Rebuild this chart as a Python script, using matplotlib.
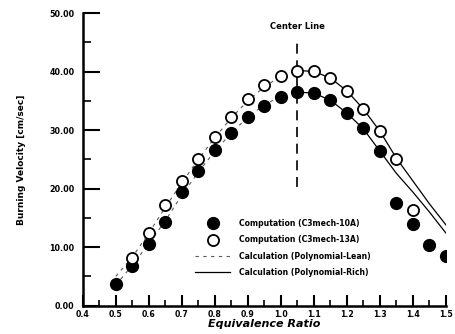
import matplotlib.pyplot as plt
from matplotlib.ticker import MultipleLocator

plt.rcParams['font.family'] = ['DejaVu Sans']
plt.rcParams['font.weight'] = 'bold'

# computed burning velocities
phi_10a = [0.5, 0.55, 0.6, 0.65, 0.7, 0.75, 0.8, 0.85, 0.9, 0.95, 1.0, 1.05,
           1.1, 1.15, 1.2, 1.25, 1.3, 1.35, 1.4, 1.45, 1.5]
su_10a = [3.7, 6.7, 10.5, 14.3, 19.5, 23.0, 26.6, 29.5, 32.2, 34.1, 35.6, 36.5,
          36.3, 35.1, 32.9, 30.3, 26.4, 17.6, 14.0, 10.4, 8.5]
phi_13a = [0.55, 0.6, 0.65, 0.7, 0.75, 0.8, 0.85, 0.9, 0.95, 1.0, 1.05,
           1.1, 1.15, 1.2, 1.25, 1.3, 1.35, 1.4]
su_13a = [8.1, 12.4, 17.2, 21.3, 25.0, 28.8, 32.2, 35.3, 37.7, 39.2, 40.1,
          40.1, 38.9, 36.7, 33.6, 29.8, 25.0, 16.4]

# polynomial fits (lean side / rich side)
phi_lean = [0.5, 0.55, 0.6, 0.65, 0.7, 0.75, 0.8, 0.85, 0.9, 0.95, 1.0, 1.05]
lean_13a = [5.0, 8.3, 12.4, 16.8, 21.0, 25.0, 28.7, 32.1, 35.0, 37.4, 39.2, 40.2]
lean_10a = [3.5, 6.9, 10.6, 14.5, 18.9, 22.8, 26.4, 29.5, 32.2, 34.3, 35.8, 36.5]
phi_rich = [1.05, 1.1, 1.15, 1.2, 1.25, 1.3, 1.35, 1.4, 1.45, 1.5]
rich_13a = [40.2, 40.0, 38.9, 36.7, 33.6, 29.8, 25.2, 21.3, 17.4, 13.8]
rich_10a = [36.5, 36.3, 35.1, 32.9, 30.2, 26.4, 22.6, 19.4, 16.0, 12.4]

center_phi = 1.05

fig = plt.figure(figsize=(4.55, 3.34), dpi=100)
ax = fig.add_axes([0.182, 0.085, 0.798, 0.876])

dash = (0, (3, 4))
ax.plot(phi_lean, lean_13a, color='0.35', lw=0.8, ls=dash,
        label='Calculation (Polynomial-Lean)', zorder=2)
ax.plot(phi_lean, lean_10a, color='0.35', lw=0.8, ls=dash, zorder=2)
ax.plot(phi_rich, rich_13a, color='black', lw=0.9,
        label='Calculation (Polynomial-Rich)', zorder=2)
ax.plot(phi_rich, rich_10a, color='black', lw=0.9, zorder=2)

ax.plot(phi_10a, su_10a, 'o', ms=8.5, color='black', mec='black',
        label='Computation (C3mech-10A)', zorder=3)
ax.plot(phi_13a, su_13a, 'o', ms=8, mfc='white', mec='black', mew=1.3,
        label='Computation (C3mech-13A)', zorder=3)

ax.plot([center_phi, center_phi], [20.3, 45.9], color='black', lw=1.2,
        ls=(0, (6, 4)), zorder=1)
ax.text(center_phi, 47.0, 'Center Line', ha='center', va='bottom',
        fontsize=6, fontweight='bold')

ax.set_xlim(0.4, 1.5)
ax.set_ylim(0, 50)
ax.xaxis.set_major_locator(MultipleLocator(0.1))
ax.xaxis.set_minor_locator(MultipleLocator(0.05))
ax.yaxis.set_major_locator(MultipleLocator(10))
ax.yaxis.set_minor_locator(MultipleLocator(5))
ax.xaxis.set_major_formatter(plt.FuncFormatter(lambda v, p: f'{v:.1f}'))
ax.yaxis.set_major_formatter(plt.FuncFormatter(lambda v, p: f'{v:.2f}'))

for s in ['top', 'right']:
    ax.spines[s].set_visible(False)
for s in ['left', 'bottom']:
    ax.spines[s].set_linewidth(1.8)

ax.tick_params(axis='x', which='major', direction='in', length=8, width=1.5,
               labelsize=5.6, pad=3)
ax.tick_params(axis='x', which='minor', direction='in', length=4, width=1.2)
ax.tick_params(axis='y', which='major', direction='in', length=12, width=1.5,
               labelsize=5.8, pad=6)
ax.tick_params(axis='y', which='minor', direction='in', length=6, width=1.2)

ax.set_xlabel('Equivalence Ratio', fontsize=8, fontweight='bold',
              fontstyle='italic', labelpad=0)
ax.set_ylabel('Burning Velocity [cm/sec]', fontsize=6.5, fontweight='bold',
              labelpad=17)

h, l = ax.get_legend_handles_labels()
order = [2, 3, 0, 1]
ax.legend([h[i] for i in order], [l[i] for i in order], loc='upper left',
          bbox_to_anchor=(0.29, 0.32), frameon=False, fontsize=5.6,
          handlelength=4.5, handletextpad=1.1, labelspacing=0.95)

fig.savefig('out.png', dpi=100)
